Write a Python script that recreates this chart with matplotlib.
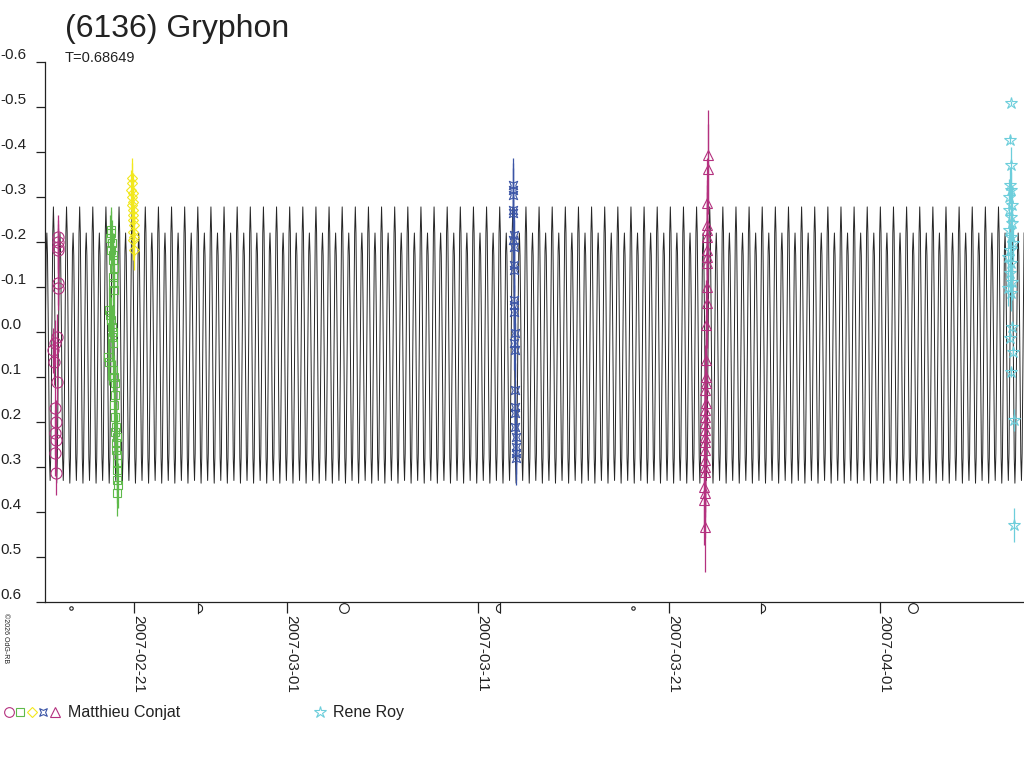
import numpy as np
import matplotlib
matplotlib.use("Agg")
import matplotlib.pyplot as plt
import matplotlib.dates as mdates
from matplotlib.lines import Line2D
from matplotlib.path import Path
from matplotlib.legend_handler import HandlerTuple
from matplotlib.transforms import blended_transform_factory
from datetime import datetime

plt.rcParams['font.family'] = ['Liberation Sans', 'DejaVu Sans']

# ---- data ----
title = "(6136) Gryphon"
period_text = "T=0.68649"
period_days = 0.68649
peak_epoch = datetime(2007, 2, 22, 6, 32)

# one rotation of the model lightcurve (phase, relative magnitude)
profile_phase = [0.00, 0.05, 0.10, 0.15, 0.20, 0.25, 0.30, 0.35, 0.40, 0.45,
                 0.50, 0.55, 0.60, 0.65, 0.70, 0.75, 0.80, 0.85, 0.90, 0.95]
profile_mag = [-0.278, -0.22, -0.07, 0.12, 0.28, 0.336, 0.28, 0.12, -0.05, -0.18,
               -0.22, -0.17, -0.04, 0.13, 0.28, 0.33, 0.27, 0.10, -0.09, -0.22]

# Matthieu Conjat, session 1 (circles), day of Feb 2007
circ_day = [17.02, 17.03, 17.02, 17.03, 17.01, 17.02, 16.95, 16.85, 16.78, 16.80,
            16.95, 16.86, 16.90, 16.86, 16.90, 16.88, 16.90]
circ_mag = [-0.211, -0.200, -0.189, -0.182, -0.109, -0.098, 0.011, 0.024, 0.040, 0.067,
            0.111, 0.169, 0.200, 0.224, 0.240, 0.269, 0.313]

# session 2 (squares), day of Feb 2007
sq_day = [19.80, 19.78, 19.75, 19.85, 19.80, 19.90, 19.88, 19.95, 19.92, 19.90,
          19.95, 19.70, 19.74, 19.80, 19.82, 19.88, 19.85, 19.90, 19.66, 19.70,
          19.92, 19.95, 19.98, 20.00, 19.95, 20.02, 20.05, 20.00, 20.08, 20.04,
          20.06, 20.10, 20.08, 20.12, 20.10, 20.14, 20.12]
sq_mag = [-0.227, -0.220, -0.209, -0.198, -0.182, -0.171, -0.160, -0.142, -0.122, -0.109,
          -0.093, -0.049, -0.038, -0.027, -0.011, 0.000, 0.011, 0.024, 0.056, 0.067,
          0.084, 0.100, 0.113, 0.140, 0.162, 0.189, 0.211, 0.222, 0.233, 0.247,
          0.262, 0.273, 0.291, 0.307, 0.329, 0.340, 0.358]

# session 3 (diamonds), day of Feb 2007
dia_day = [20.88, 20.90, 20.86, 20.92, 20.88, 20.94, 20.90, 20.96, 20.92, 20.95,
           20.97, 20.94, 20.98, 20.96, 20.99]
dia_mag = [-0.342, -0.331, -0.316, -0.309, -0.300, -0.289, -0.282, -0.271, -0.260, -0.249,
           -0.238, -0.222, -0.211, -0.204, -0.182]

# session 4 (pinched squares), day of Mar 2007
pin_day = [12.80, 12.82, 12.80, 12.84, 12.82, 12.86, 12.84, 12.85, 12.87, 12.86,
           12.88, 12.87, 12.89, 12.90, 12.88, 12.91, 12.92, 12.93, 12.92, 12.94,
           12.95, 12.96, 12.95, 12.97]
pin_mag = [-0.327, -0.316, -0.304, -0.271, -0.264, -0.216, -0.204, -0.189, -0.149, -0.138,
           -0.071, -0.060, -0.044, 0.002, 0.024, 0.040, 0.129, 0.167, 0.180, 0.211,
           0.233, 0.256, 0.269, 0.280]

# session 5 (triangles), day of Mar 2007
tri_day = [22.99, 22.99, 22.98, 22.97, 22.98, 22.96, 22.97, 22.95, 22.96, 22.95,
           22.94, 22.93, 22.90, 22.89, 22.90, 22.88, 22.89, 22.87, 22.88, 22.86,
           22.87, 22.85, 22.86, 22.85, 22.84, 22.85, 22.84, 22.83, 22.84, 22.83,
           22.84]
tri_mag = [-0.393, -0.362, -0.287, -0.238, -0.227, -0.211, -0.182, -0.167, -0.153, -0.100,
           -0.064, -0.016, 0.062, 0.100, 0.113, 0.129, 0.158, 0.173, 0.189, 0.202,
           0.218, 0.233, 0.244, 0.262, 0.284, 0.300, 0.311, 0.344, 0.358, 0.373,
           0.433]

# Rene Roy (stars), day of Apr 2007
star_day = [7.86, 7.82, 7.84, 7.80, 7.88, 7.78, 7.90, 7.76, 7.84, 7.92,
            7.74, 7.86, 7.95, 7.80, 7.70, 7.88, 7.82, 7.92, 7.68, 7.86,
            7.90, 7.80, 7.95, 7.88, 8.00, 8.02]
star_mag = [-0.509, -0.427, -0.371, -0.327, -0.316, -0.300, -0.282, -0.271, -0.256, -0.242,
            -0.227, -0.211, -0.198, -0.182, -0.167, -0.153, -0.131, -0.111, -0.098, -0.087,
            -0.011, 0.013, 0.044, 0.089, 0.196, 0.429]
star_err = [0.005, 0.01, 0.04, 0.04, 0.04, 0.04, 0.04, 0.04, 0.04, 0.04,
            0.04, 0.04, 0.04, 0.04, 0.04, 0.04, 0.04, 0.04, 0.04, 0.04,
            0.01, 0.01, 0.01, 0.01, 0.025, 0.038]

moon_dates = [datetime(2007, 2, 17, 16, 14), datetime(2007, 2, 24, 7, 56),
              datetime(2007, 3, 3, 23, 17), datetime(2007, 3, 12, 3, 54),
              datetime(2007, 3, 19, 2, 43), datetime(2007, 3, 25, 18, 16),
              datetime(2007, 4, 2, 17, 15)]
moon_phase = ['new', 'first', 'full', 'last', 'new', 'first', 'full']

tick_dates = [datetime(2007, 2, 21), datetime(2007, 3, 1), datetime(2007, 3, 11),
              datetime(2007, 3, 21), datetime(2007, 4, 1)]
tick_labels = ['2007-02-21', '2007-03-01', '2007-03-11', '2007-03-21', '2007-04-01']
ytick_vals = [-0.6, -0.5, -0.4, -0.3, -0.2, -0.1, 0.0, 0.1, 0.2, 0.3, 0.4, 0.5, 0.6]
ytick_labels = ['-0.6', '-0.5', '-0.4', '-0.3', '-0.2', '-0.1', '0.0',
                '0.1', '0.2', '0.3', '0.4', '0.5', '0.6']

x_start = datetime(2007, 2, 16, 8, 10)
x_end = datetime(2007, 4, 8, 13, 0)

# ---- styles ----
c_mag = '#b4317f'
c_green = '#5fba4b'
c_yellow = '#f2e81e'
c_blue = '#3b55a6'
c_cyan = '#6dcedb'
c_curve = '#262626'
c_text = '#222222'

pinch = Path([(-1, -1), (0, -0.55), (1, -1), (0.55, 0), (1, 1), (0, 0.55),
              (-1, 1), (-0.55, 0), (-1, -1)], closed=True)
half_r = Path.arc(-90, 90)
d_shape = Path(np.vstack([half_r.vertices, [[0, -1.3]], [[0, 1.3]]]))
half_l = Path.arc(90, 270)
rd_shape = Path(np.vstack([half_l.vertices, [[0, 1.3]], [[0, -1.3]]]))


def month_days(year, month, days):
    base = mdates.date2num(datetime(year, month, 1))
    return base + np.asarray(days) - 1.0


fig = plt.figure(figsize=(10.24, 7.68), dpi=100)
ax = fig.add_axes([45 / 1024, 1 - 602 / 768, 1 - 45 / 1024, 540 / 768])

# model lightcurve repeated over every rotation in the window
t0 = mdates.date2num(peak_epoch)
ts = mdates.date2num(x_start)
te = mdates.date2num(x_end)
k0 = int(np.floor((ts - t0) / period_days)) - 1
k1 = int(np.ceil((te - t0) / period_days)) + 1
curve_t = []
curve_m = []
for k in range(k0, k1 + 1):
    for ph, mg in zip(profile_phase, profile_mag):
        curve_t.append(t0 + (k + ph) * period_days)
        curve_m.append(mg)
ax.plot(curve_t, curve_m, color=c_curve, lw=0.7, zorder=2)

sessions = [
    (month_days(2007, 2, circ_day), circ_mag, 0.05, c_mag, 'o', 8),
    (month_days(2007, 2, sq_day), sq_mag, 0.05, c_green, 's', 5.5),
    (month_days(2007, 2, dia_day), dia_mag, 0.045, c_yellow, 'D', 5),
    (month_days(2007, 3, pin_day), pin_mag, 0.06, c_blue, pinch, 6),
    (month_days(2007, 3, tri_day), tri_mag, 0.1, c_mag, '^', 6.5),
    (month_days(2007, 4, star_day), star_mag, star_err, c_cyan, '*', 9),
]
for t, m, e, col, mk, ms in sessions:
    ax.errorbar(t, m, yerr=e, fmt='none', ecolor=col, elinewidth=0.9, capsize=0, zorder=3)
    ax.plot(t, m, ls='none', marker=mk, mfc='none', mec=col, ms=ms, mew=0.8, zorder=4)

ax.set_xlim(ts, te)
ax.set_ylim(0.6, -0.6)
ax.set_yticks(ytick_vals)
ax.set_yticklabels(ytick_labels)
ax.set_xticks(mdates.date2num(tick_dates))
ax.set_xticklabels(tick_labels)

for s in ['top', 'right']:
    ax.spines[s].set_visible(False)
for s in ['left', 'bottom']:
    ax.spines[s].set_color(c_text)
    ax.spines[s].set_linewidth(0.9)

ax.tick_params(axis='y', direction='out', length=6.5, width=0.9, color=c_text,
               pad=25.5, labelsize=11, labelcolor=c_text)
ax.tick_params(axis='x', direction='out', length=8, width=0.9, color=c_text,
               pad=1.5, labelsize=11, labelcolor=c_text)
for lbl in ax.get_yticklabels():
    lbl.set_horizontalalignment('left')
    lbl.set_verticalalignment('bottom')
for lbl in ax.get_xticklabels():
    lbl.set_rotation(-90)
    lbl.set_rotation_mode('anchor')
    lbl.set_horizontalalignment('left')
    lbl.set_verticalalignment('baseline')

# moon phases under the axis
moon_tr = blended_transform_factory(ax.transData, ax.transAxes)
moon_style = {'new': ('o', 2.5), 'first': (d_shape, 7.5), 'full': ('o', 7), 'last': (rd_shape, 7.5)}
for d, p in zip(moon_dates, moon_phase):
    mk, ms = moon_style[p]
    ax.plot([mdates.date2num(d)], [-0.012], transform=moon_tr, clip_on=False, ls='none',
            marker=mk, ms=ms, mfc='none', mec=c_text, mew=0.8)

fig.text(65 / 1024, 1 - 29 / 768, title, fontsize=23, color=c_text, va='center', ha='left')
fig.text(65 / 1024, 1 - 58 / 768, period_text, fontsize=10.5, color=c_text, va='center', ha='left')
fig.text(0.002, 1 - 613 / 768, '\u00a92026 OdG-RB', fontsize=5, color=c_text,
         rotation=-90, va='top', ha='left')

# legend
def leg_handle(mk, col, ms):
    return Line2D([], [], ls='none', marker=mk, mfc='none', mec=col, ms=ms, mew=0.8)


obs1 = (leg_handle('o', c_mag, 7), leg_handle('s', c_green, 5.5), leg_handle('D', c_yellow, 5),
        leg_handle(pinch, c_blue, 5.5), leg_handle('^', c_mag, 6.5))
leg1 = fig.legend([obs1], ['Matthieu Conjat'], loc='center left',
                  bbox_to_anchor=(0.003, 1 - 713 / 768), frameon=False, fontsize=11.5,
                  handler_map={tuple: HandlerTuple(ndivide=None, pad=0.05)},
                  handlelength=3.6, handletextpad=0.45, borderpad=0, borderaxespad=0)
for t in leg1.get_texts():
    t.set_color(c_text)
leg2 = fig.legend([leg_handle('*', c_cyan, 9)], ['Rene Roy'], loc='center left',
                  bbox_to_anchor=(312 / 1024, 1 - 713 / 768), frameon=False, fontsize=11.5,
                  handlelength=1.0, handletextpad=0.3, borderpad=0, borderaxespad=0)
for t in leg2.get_texts():
    t.set_color(c_text)

fig.savefig('out.png', dpi=100)
